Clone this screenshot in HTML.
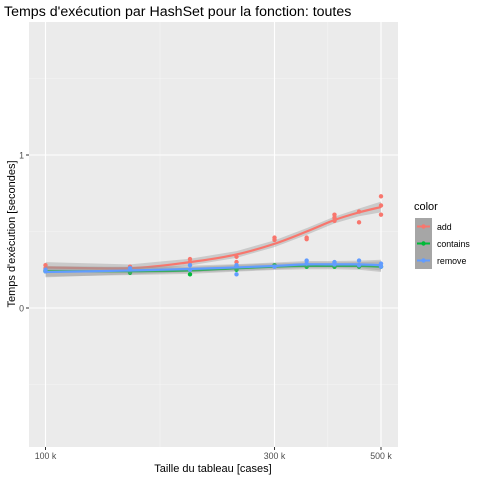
<!DOCTYPE html>
<html><head><meta charset="utf-8"><style>
body{margin:0;background:#fff}svg{display:block;font-family:"Liberation Sans",sans-serif}
</style></head><body>
<svg id="c" width="480" height="480" xmlns="http://www.w3.org/2000/svg">
<text x="4" y="16" font-size="14.2" fill="#000">Temps d'exécution par HashSet pour la fonction: toutes</text>
<rect x="29" y="22" width="369" height="425" fill="#ebebeb"/>
<g id="grid"></g><g id="marks"></g><g id="axes"></g>
<text transform="translate(15,234) rotate(-90)" text-anchor="middle" font-size="11">Temps d'exécution [secondes]</text>
<text x="213" y="472" text-anchor="middle" font-size="11">Taille du tableau [cases]</text>
<g>
<text x="414" y="210" font-size="11">color</text>
<g id="legend"></g></g>
</svg>
<script>
const sizes=[100,150,200,250,300,350,400,450,500];
const addPts=[[100,0.28],[100,0.26],[150,0.27],[200,0.32],[200,0.30],[250,0.335],[250,0.30],[300,0.46],[300,0.445],[350,0.46],[350,0.45],[400,0.61],[400,0.59],[400,0.57],[450,0.63],[450,0.56],[500,0.73],[500,0.67],[500,0.61]];
const containsPts=[[100,0.24],[100,0.245],[150,0.23],[200,0.22],[250,0.25],[250,0.27],[300,0.28],[350,0.27],[400,0.27],[450,0.27],[500,0.27]];
const removePts=[[100,0.24],[100,0.25],[150,0.26],[200,0.28],[200,0.25],[250,0.22],[250,0.28],[300,0.27],[350,0.29],[350,0.31],[400,0.3],[400,0.285],[450,0.31],[450,0.28],[500,0.29],[500,0.27]];
const addSmooth=[0.265,0.26,0.30,0.35,0.42,0.50,0.575,0.625,0.66];
const containsSmooth=[0.24,0.24,0.245,0.26,0.27,0.275,0.275,0.275,0.27];
const removeSmooth=[0.235,0.245,0.255,0.265,0.275,0.285,0.285,0.285,0.28];
const bandWidth=[0.035,0.025,0.022,0.022,0.022,0.022,0.022,0.025,0.035];
const xTicks=[100,300,500];
const xTickLabels=["100 k","300 k","500 k"];
const xMinor=[173.2,387.3];
const yTicks=[0,1];
const yMinor=[-0.5,0.5,1.5];
const NS="http://www.w3.org/2000/svg";
const X=v=>45.5+480*Math.log10(v/100);
const Y=v=>308-153*v;
function el(t,a,p){const e=document.createElementNS(NS,t);for(const k in a)e.setAttribute(k,a[k]);document.getElementById(p).appendChild(e);return e;}
yMinor.forEach(v=>{const e=el('line',{x1:29,x2:398,y1:Y(v),y2:Y(v),stroke:'#f5f5f5','stroke-width':0.6},'grid');

});
xMinor.forEach(v=>{const e=el('line',{x1:X(v),x2:X(v),y1:22,y2:447,stroke:'#f5f5f5','stroke-width':0.6},'grid');

});
yTicks.forEach(v=>{const e=el('line',{x1:29,x2:398,y1:Y(v),y2:Y(v),stroke:'#fff','stroke-width':1.1},'grid');


const t=el('text',{x:24,y:Y(v)+3.5,'text-anchor':'end','font-size':8.8,fill:'#4d4d4d'},'axes');t.textContent=v;


el('line',{x1:26,x2:29,y1:Y(v),y2:Y(v),stroke:'#333'},'axes');});
xTicks.forEach((v,i)=>{const e=el('line',{x1:X(v),x2:X(v),y1:22,y2:447,stroke:'#fff','stroke-width':1.1},'grid');


el('line',{x1:X(v),x2:X(v),y1:447,y2:450,stroke:'#333'},'axes');
const t=el('text',{x:X(v),y:459,'text-anchor':'middle','font-size':8.8,fill:'#4d4d4d'},'axes');t.textContent=xTickLabels[i];

});
function curve(arr,off){const p=arr.map((v,i)=>[X(sizes[i]),Y(v+(off?off[i]:0))]);let d='M'+p[0];
for(let i=0;i<p.length-1;i++){const p0=p[i-1]||p[i],p1=p[i],p2=p[i+1],p3=p[i+2]||p2;
d+=' C'+(p1[0]+(p2[0]-p0[0])/6)+','+(p1[1]+(p2[1]-p0[1])/6)+' '+(p2[0]-(p3[0]-p1[0])/6)+','+(p2[1]-(p3[1]-p1[1])/6)+' '+p2;}return d;}
const series=[["add","#f8766d",addPts,addSmooth],["contains","#00ba38",containsPts,containsSmooth],["remove","#619cff",removePts,removeSmooth]];
series.forEach(([n,c,pts,sm])=>{
const band=sm.map((v,i)=>X(sizes[i])+','+Y(v+bandWidth[i])).join(' ')+' '+sm.map((v,i)=>X(sizes[i])+','+Y(v-bandWidth[i])).reverse().join(' ');
const b=el('polygon',{points:band,fill:'#999',opacity:0.4},'marks');


pts.forEach(p=>{const d=el('circle',{cx:X(p[0]),cy:Y(p[1]),r:2.2,fill:c},'marks');

});
const l=el('path',{d:curve(sm),fill:'none',stroke:c,'stroke-width':2.2},'marks');

});
series.forEach(([n,c],i)=>{const y0=218+i*17;
const r=el('rect',{x:415,y:y0,width:17,height:17,fill:'#a6a6a6'},'legend');


el('line',{x1:417,x2:430,y1:y0+8.5,y2:y0+8.5,stroke:c,'stroke-width':2},'legend');
el('circle',{cx:423.5,cy:y0+8.5,r:2.2,fill:c},'legend');
const t=el('text',{x:437,y:y0+12,'font-size':8.8},'legend');t.textContent=n;

});
</script>
</body></html>
